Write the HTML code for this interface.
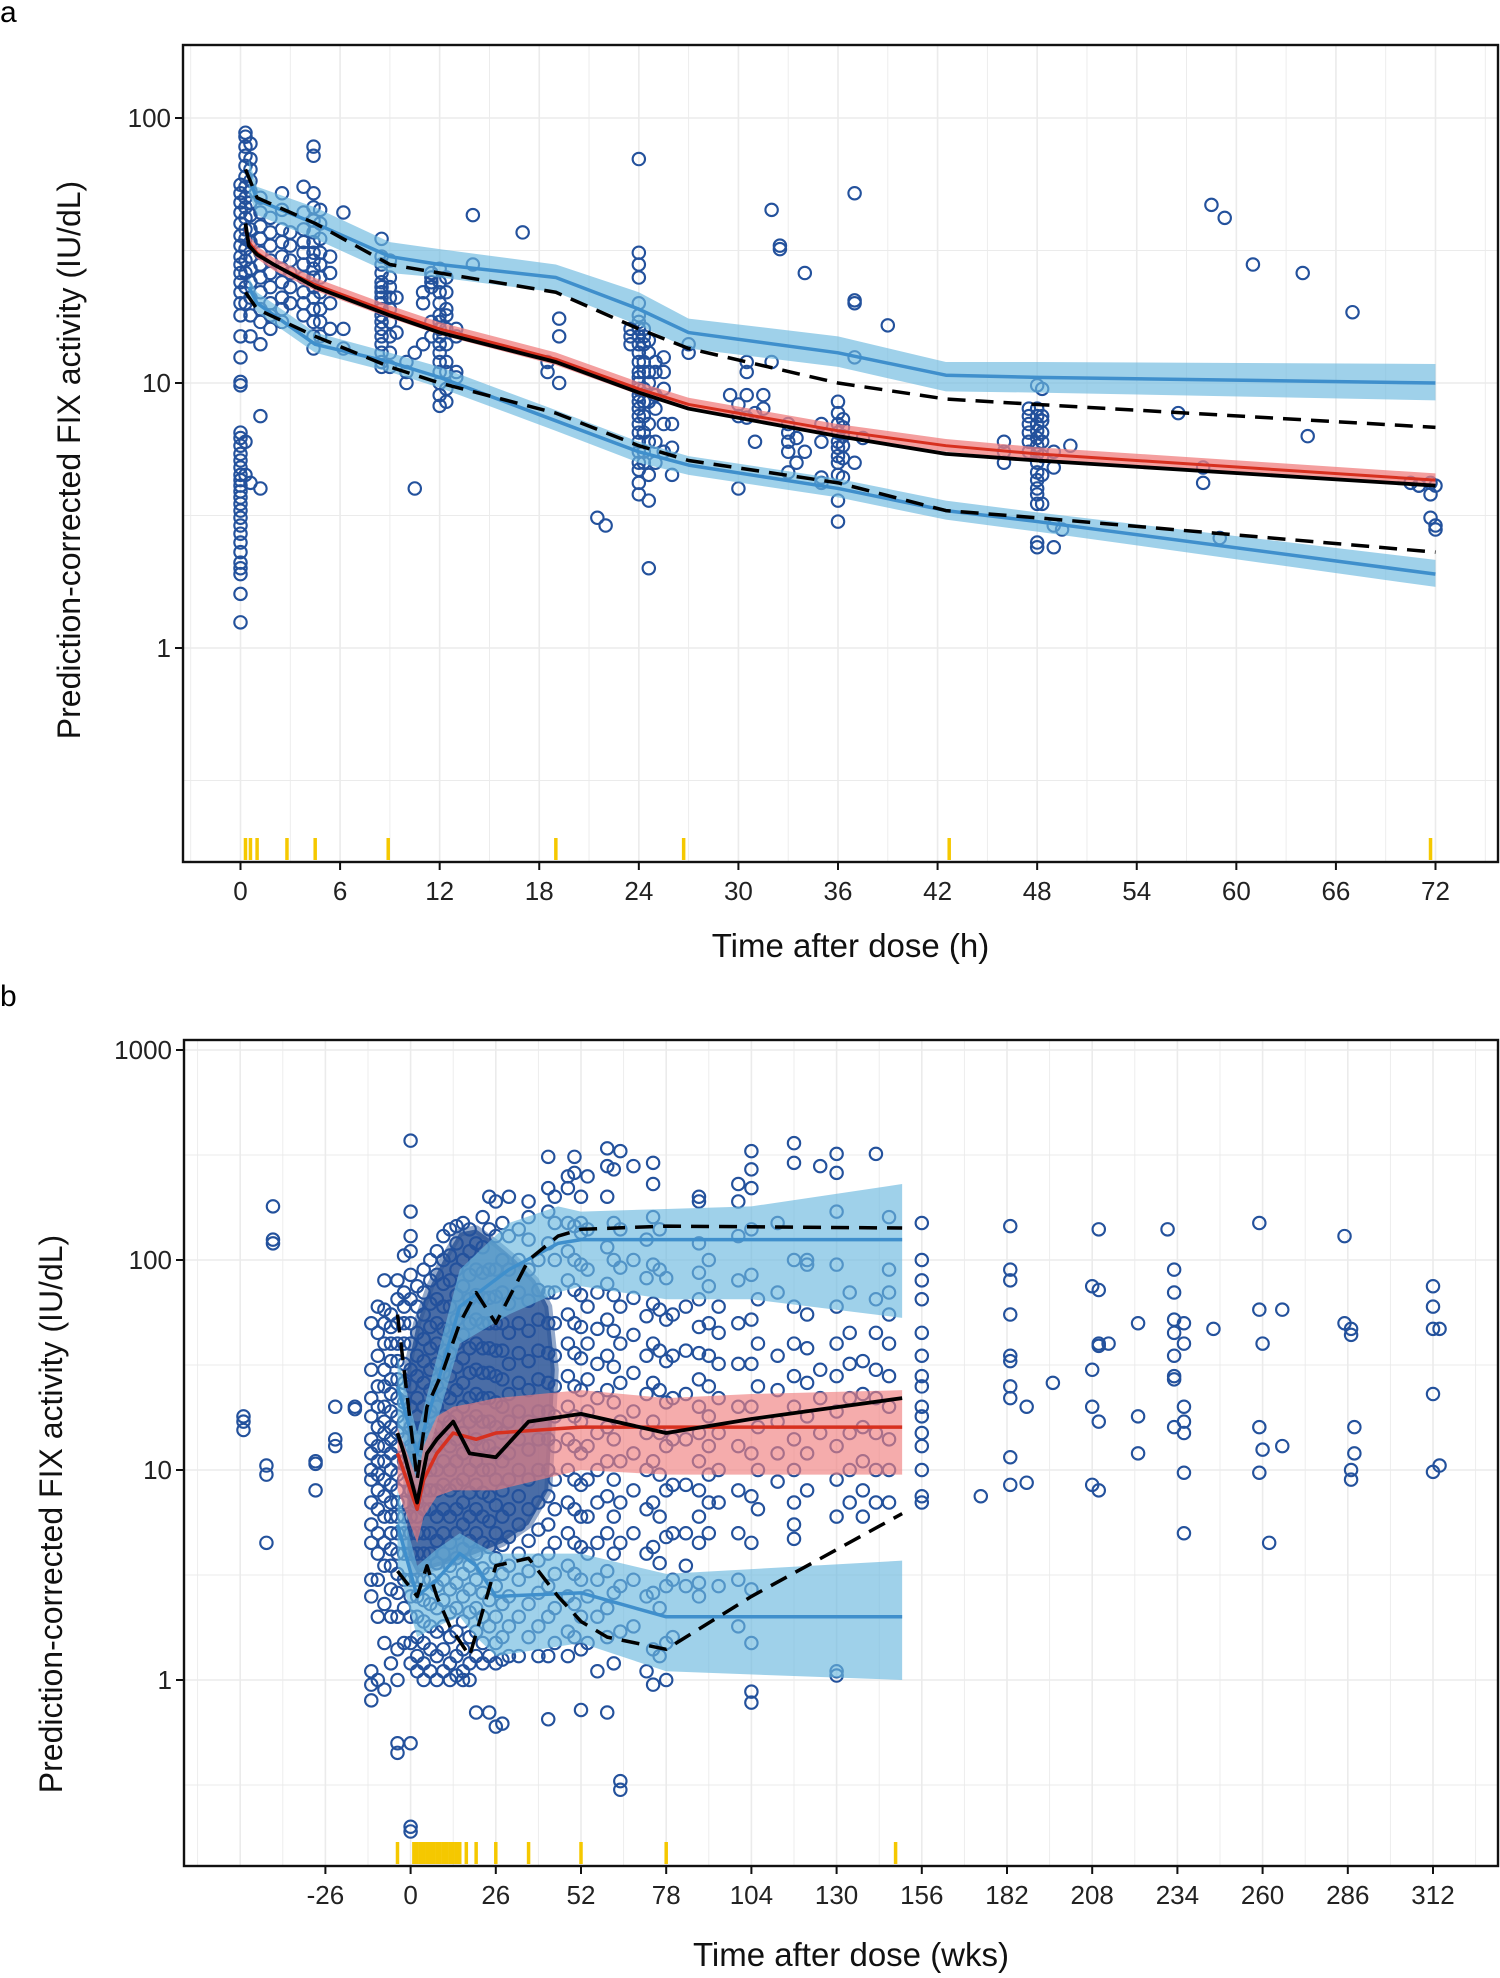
<!DOCTYPE html>
<html><head><meta charset="utf-8">
<style>
html,body{margin:0;padding:0;background:#fff;}
svg{display:block;font-family:"Liberation Sans",Arial,sans-serif;}
</style></head>
<body>
<svg id="chart" width="1500" height="1978" viewBox="0 0 1500 1978" xmlns="http://www.w3.org/2000/svg">
<rect width="1500" height="1978" fill="#fff"/>
<text x="0" y="22" font-size="30">a</text>
<text x="0" y="1006" font-size="30">b</text>
<g id="pa"></g>
<g id="pb"></g>
</svg>
<script>
// ---------- Panel A data ----------
const aXTicks=[0,6,12,18,24,30,36,42,48,54,60,66,72];
const aYTicks=[1,10,100];
const aBandT=[0.5,1,4.5,9,12,19,24,27,36,42.5,48,72];
const aUpMid=[60,49,40,30,28,25,19,15.5,13,10.7,10.5,10];
const aUpLo=[52,43,35,26,25,22,16.5,13.5,11.5,9.3,9.2,8.6];
const aUpHi=[70,55,46,34,32,28,22,17.5,15,12,12,11.8];
const aLoMid=[23,20,14,12,10.5,7.2,5.5,4.9,4.0,3.3,3.0,1.9];
const aLoLo=[21,18.5,13,11,9.6,6.6,5,4.5,3.7,3.05,2.75,1.7];
const aLoHi=[25,22,15.5,13,11.5,7.9,6,5.3,4.35,3.6,3.25,2.15];
const aMedT=[0.3,0.5,1,2,4.5,9,12,19,24,27,36,42.5,48,72];
const aRed=[38,34,31,28,23.5,18.5,16,12.3,9.5,8.3,6.6,5.8,5.4,4.3];
const aBlack=[40,33,30.5,28,23,18,15.5,12,9.2,8,6.3,5.4,5.1,4.1];
const aDashT=[0.3,1,4.5,9,12,19,24,27,36,42.5,48,72];
const aDashUp=[64,50,40,28,26,22,16,13.5,10,8.7,8.3,6.8];
const aDashLo=[22,19,15,11.5,10,7.7,5.8,5.1,4.2,3.3,3.1,2.3];
const aRug=[0.3,0.6,1,2.8,4.5,8.9,19,26.7,42.7,71.7];
const aObs=[
[0,[1.25,1.6,1.9,2.0,2.1,2.3,2.5,2.7,2.9,3.1,3.3,3.5,3.7,3.9,4.1,4.3,4.5,4.8,5.1,5.4,5.8,6.2,6.5,9.8,10.1,12.5,15,18,20,22,24,26,28,30,33,36,40,44,48,52,56]],
[0.3,[4.5,6,20,23,26,29,32,35,38,42,46,50,55,60,66,72,78,85,88]],
[0.6,[4.2,15,18,21,24,27,30,34,38,43,48,53,58,64,70,80]],
[1.2,[4.0,7.5,14,17,19,22,25,28,31,35,39,44,50]],
[1.8,[16,18,20,23,26,29,33,37,42]],
[2.5,[17,19,21,24,27,30,34,38,45,52]],
[3,[20,23,26,29,33,37]],
[3.8,[18,20,22,25,28,31,34,38,44,55]],
[4.4,[13.5,15,17,19,21,23,25,27,29,31,34,37,41,46,52,72,78]],
[4.8,[15,17,19,22,25,28,31,35,40,45]],
[5.4,[16,20,26,30]],[6.2,[13.5,16,44]],
[8.5,[11.5,12,13,14,15,16,17,18,19,20,21,22,23,24,26,28,30,35]],
[9,[11.5,13,15,17,19,21,23,25,29]],[9.4,[15.5,21]],[10,[10,11,12]],[10.5,[4,13]],
[11,[14,20,22]],[11.5,[15,17,23,24,25,26]],
[12,[8.2,9,10,11,12,13,14,15,16,17,18,20,22,24,27]],
[12.4,[8.5,9.5,11,12,14,16,18,19,22,25]],[13,[10.5,11,15,16]],[14,[28,43]],[17,[37]],
[18.5,[11,12]],[19.2,[10,15,17.5]],[21.5,[3.1]],[22,[2.9]],[23.5,[14,15,16]],
[24,[3.8,4.2,4.7,5,5.5,6,6.5,7,7.5,8,8.5,9,9.5,10,10.5,11,12,13,14,15,16,17,18,20,25,28,31,70]],
[24.3,[5,5.5,6.5,7.5,8.5,9.5,11,12,14,15,16]],
[24.6,[2,3.6,4.5,6,7,8.5,10,11,13,14.5]],
[25,[5,6,8,9,11,12]],[25.5,[5.5,7,9.5,11,12.5]],[26,[4.5,5.7,7]],[27,[13,14]],
[29.5,[9]],[30,[4,7.5,8.3]],[30.5,[7.4,9,11,12]],[31,[6,7.7]],[31.5,[8,9]],[32,[45,12]],
[32.5,[33,32]],[33,[4.6,5.5,6,6.5,7]],[33.5,[5,6.2]],[34,[26,5.5]],[35,[4.2,4.4,6,7]],
[36,[3,3.6,4.5,5,5.3,5.7,6,6.5,7,7.7,8.5]],[36.3,[4.4,5.2,5.8,6.3,6.8,7.3]],
[37,[5,20.5,20,12.5,52]],[37.5,[6.2]],[39,[16.5]],[46,[5,5.5,6]],
[47.5,[5.5,6,6.5,7,7.5,8]],
[48,[2.4,2.5,3.5,3.8,4,4.3,4.6,5,5.4,5.8,6.2,6.6,7,7.5,8,9.8]],
[48.3,[3.5,4.5,5.3,6,6.5,7.2,7.5,9.5]],[49,[2.4,2.9,5.5,4.8]],[49.5,[2.8]],[50,[5.8]],
[56.5,[7.7]],[58,[4.8,4.2]],[59,[2.6]],[58.5,[47]],[59.3,[42]],[61,[28]],[64,[26]],
[64.3,[6.3]],[67,[18.5]],[70.5,[4.2]],[71,[4.1,4.1]],[71.7,[3.1,4.2,3.8]],[72,[2.8,2.9,4.1]]
];
// ---------- Panel B data ----------
const bXTicks=[-26,0,26,52,78,104,130,156,182,208,234,260,286,312];
const bYTicks=[1,10,100,1000];
const bUpT=[-4,2,15,30,45,52,78,104,150];
const bUpMid=[25,12,60,90,120,125,125,125,125];
const bUpLo=[15,8,40,55,70,75,65,65,53];
const bUpHi=[35,15,90,150,180,170,175,180,230];
const bLoT=[-4,2,8,15,20,26,52,78,150];
const bLoMid=[5.5,2.5,3,4,3.5,2.5,2.6,2.0,2.0];
const bLoLo=[3.5,1.6,1.8,2,1.6,1.3,1.5,1.1,1.0];
const bLoHi=[8,3.5,4.2,5,4.5,4,4,3.2,3.7];
const bRedT=[-4,2,4,8,13,20,26,52,78,104,150];
const bRed=[12,6.5,9,12,15,14,15,16,16,16,16];
const bRedLo=[8,4.5,6,7.5,8,8,8,10,9.5,9.5,9.5];
const bRedHi=[16,9,13,18,20,21,22,24,22,23,24];
const bBlackT=[-4,-2,2,5,8,13,18,26,36,52,78,104,150];
const bBlack=[15,12,7,12,14,17,12,11.5,17,18.5,15,17.5,22];
const bDUpT=[-4,2,5,10,15,20,26,36,45,52,78,150];
const bDUp=[55,9,20,30,50,70,50,100,130,140,145,142];
const bDLoT=[-4,2,5,8,12,18,26,36,45,52,60,78,104,150];
const bDLo=[3.3,2.5,3.5,2.5,1.8,1.3,3.5,3.8,2.5,1.9,1.6,1.4,2.5,6.2];
const bRug=[-4,1,2,3,4,5,6,7,8,9,10,11,12,13,14,15,17,20,26,36,52,78,148];
const bCloudT=[-1,2,6,10,15,20,26,32,38,42,44,42,36,28,20,12,6,2,-1];
const bCloudV=[30,50,75,100,135,140,120,100,80,60,30,8,5.5,4.5,4,3.6,3.4,3.2,4];
const bObs=[
[-51,[18,17,15.5]],[-42,[180,125,120]],[-44,[10.5,9.5,4.5]],[-29,[11,10.7,8]],[-23,[20,14,13]],[-17,[20,19.5]],
[-12,[0.8,0.95,1.1,2.5,3,4.5,5.5,7,9,10,12,14,18,22,30,50]],
[-10,[1.0,2,3,4,5,6.5,8,9.5,11,13,16,20,25,35,45,60]],
[-8,[0.9,1.5,2.3,3.5,4.5,6,7.5,9,11,13,15,17,20,25,30,40,50,58,80]],
[-6,[1.2,2,2.7,3.5,4.2,5,6,7,8.5,10,12,14,16,19,23,27,33,40,48,55]],
[-4,[0.45,0.5,1.0,1.4,2,2.6,3.2,4,5,6,7,8,9.5,11,13,15,18,22,27,33,40,50,65,80]],
[-2,[1.5,2.2,3,4,5,6,7,9,11,14,17,21,26,32,40,50,60,70,105]],
[0,[0.5,0.2,0.19,1.2,1.5,2,2.5,3,4,5,6,8,10,13,16,20,25,30,40,50,65,85,110,130,170,370]],
[2,[1.1,1.3,1.6,2,2.5,3,4,5,6,7,9,11,14,18,22,28,35,45,60,75]],
[4,[1.0,1.2,1.5,1.9,2.4,3,4,5,6.5,8,10,13,16,20,26,33,42,55,70,90]],
[6,[1.1,1.4,1.8,2.3,3,4,5,6.5,8,10,12,15,19,24,30,38,48,62,80,100]],
[8,[1.0,1.3,1.7,2.2,2.8,3.6,4.6,6,8,10,13,16,20,25,32,40,50,65,85,110]],
[10,[1.1,1.4,1.8,2.4,3,4,5,6.5,8.5,11,14,18,23,29,37,47,60,77,100,130]],
[12,[1.0,1.2,1.6,2.1,2.7,3.5,4.5,6,8,10,13,17,22,28,36,46,60,80,105,140]],
[14,[1.05,1.3,1.7,2.2,2.9,3.8,5,6.5,8.5,11,14,18,24,31,40,52,68,90,120,145]],
[16,[1.0,1.1,1.4,1.9,2.5,3.2,4.2,5.5,7,9,12,15,20,26,34,44,57,75,100,150]],
[18,[1.0,1.2,1.6,2.1,2.7,3.5,4.6,6,7.8,10,13,17,22,29,38,50,65,85,110,140]],
[20,[0.7,1.3,1.7,2.2,3,4,5,6.5,8.5,11,14,18,23,30,40,52,68,90,120]],
[22,[1.2,1.5,2,2.6,3.4,4.5,6,7.8,10,13,17,22,29,38,50,66,87,115,160]],
[24,[0.7,1.3,1.8,2.4,3.2,4.3,5.7,7.5,10,13,17,22,29,38,50,66,90,140,200]],
[26,[0.6,1.2,1.5,2,2.8,3.8,5,6.8,9,12,16,21,28,37,50,67,90,130,190]],
[28,[0.62,1.25,1.6,2.3,3.2,4.4,6,8,11,15,20,27,37,50,70,100,150]],
[30,[1.3,1.8,2.5,3.5,4.8,6.5,9,12,17,23,32,45,62,90,130,200]],
[33,[1.3,2,3,4,5.5,7.5,10,14,19,26,36,50,70,100,140]],
[36,[1.6,2.3,3.3,4.6,6.5,9,12.5,17,24,33,46,64,90,125,160,190]],
[39,[1.3,1.8,2.6,3.7,5.2,7,10,14,19,27,37,52,72,100]],
[42,[0.65,1.3,2,2.8,4,5.5,7.5,10,14,19,26,36,50,70,120,170,220,310]],
[44,[1.5,2.2,3.2,4.5,6.5,9,13,18,25,35,50,70,100,150,200]],
[48,[1.3,1.7,2.5,3.5,5,7,10,14,20,28,40,55,80,110,150,220,250]],
[50,[1.6,2.3,3.2,4.5,6.5,9,13,18,25,36,50,72,100,145,260,310]],
[52,[0.72,1.4,2,3,4.3,6,8.5,12,17,24,34,48,68,95,135,150,200]],
[54,[1.5,2.5,4,6,9,13,19,27,40,60,90,140,250]],
[57,[1.1,2,3,4.5,7,10,15,22,32,47,70]],
[60,[0.7,1.6,2.2,3.3,5,7.5,11,16,24,35,52,77,115,200,280,340]],
[62,[1.2,2.6,4,6,9,14,21,31,46,68,100,150,270]],
[64,[0.3,0.33,1.7,2.8,4.5,7,11,17,26,40,60,92,140,330]],
[68,[1.8,3,5,8,12,19,29,44,66,100,280]],
[72,[1.1,2.5,4,6.5,10,15,23,35,54,82,125]],
[74,[0.95,1.4,2.6,4.3,7,11,17,26,40,62,95,160,230,290]],
[76,[1.3,2.2,3.6,6,9.5,15,24,37,58,90,140]],
[78,[1.0,1.5,2.8,4.8,8,13,21,33,52,82]],
[80,[1.6,3,5,8.5,14,22,35,55]],
[84,[2.8,3.5,5,8.5,14,23,37,60]],
[88,[2.5,2.9,4.5,6,8,11,15,20,27,36,48,65,87,120,190,200]],
[91,[5,7,9.5,13,18,25,35,50,75,100]],
[94,[2.8,7,10,15,22,32,45,60]],
[100,[1.8,3,5,8,13,20,32,50,80,130,190,230]],
[104,[0.78,0.88,1.5,2.7,4.5,7.5,12,20,32,52,85,140,220,270,330]],
[106,[6.5,10,16,25,40,65]],
[112,[8.8,12,17,24,35,70,150]],
[117,[4.7,5.5,7,10,14,20,28,40,60,100,290,360]],
[121,[8,12,18,26,38,55,95,100]],
[125,[15,22,30,280]],
[130,[1.05,1.1,6,9,13,19,28,40,60,95,170,320,260]],
[134,[7,10,15,22,32,45,70]],
[138,[6,8,11,16,23,33]],
[142,[7,10,15,22,30,45,65,320]],
[146,[7,10,14,20,28,40,55,70,90,160]],
[156,[150,100,80,65,45,35,28,25,20,18,15,13,10,7.5,7]],
[174,[7.5]],[183,[145,90,80,55,35,33,25,22,11.5,8.5]],[188,[20,8.7]],[196,[26]],
[208,[75,30,20,8.5]],[210,[140,72,40,39,17,8]],[213,[40]],[222,[50,18,12]],[231,[140]],
[233,[90,70,52,45,35,28,27,16]],[236,[50,40,20,17,15,9.7,5]],[245,[47]],
[259,[150,58,16,9.7]],[260,[40,12.5]],[262,[4.5]],[266,[58,13]],[285,[130,50]],
[287,[47,44,10,9]],[288,[16,12]],[312,[75,60,47,23,9.8]],[314,[47,10.5]]
];

// ---------- rendering ----------
const NS='http://www.w3.org/2000/svg';
function el(parent,tag,attrs){const e=document.createElementNS(NS,tag);for(const k in attrs)e.setAttribute(k,attrs[k]);parent.appendChild(e);return e;}

function panel(g,cfg){
  const L=cfg.left,R=cfg.right,T=cfg.top,B=cfg.bottom;
  const X=v=>cfg.x0+v*cfg.xs;
  const Y=v=>cfg.y1-Math.log10(v)*cfg.dec;
  const grid=el(g,'g',{});
  
  
  const sx=cfg.xTicks[1]-cfg.xTicks[0];
  for(let v=cfg.xTicks[0]-sx*1.5;v<=cfg.xTicks[cfg.xTicks.length-1]+sx;v+=sx/2){
    const px=X(v); if(px<=L||px>=R) continue;
    el(grid,'line',{x1:px,x2:px,y1:T,y2:B,stroke:'#ebebeb','stroke-width':(Math.abs(((v-cfg.xTicks[0])/sx)%1)<1e-6)?1.6:0.9});
  }
  for(let e=-2;e<=4;e+=0.5){
    const py=Y(Math.pow(10,e)); if(py<=T||py>=B) continue;
    el(grid,'line',{x1:L,x2:R,y1:py,y2:py,stroke:'#ebebeb','stroke-width':(e%1===0)?1.6:0.9});
  }
  if(cfg.cloud){
    let d=cfg.cloud.t.map((t,i)=>(i?'L':'M')+X(t)+','+Y(cfg.cloud.v[i])).join(' ')+'Z';
    const c=el(g,'path',{d:d,fill:'#2a5396','fill-opacity':0.85,'stroke':'#2a5396','stroke-width':8,'stroke-opacity':0.5,'stroke-linejoin':'round'});
    
    
  }
  const pts=el(g,'g',{});
  
  
  cfg.obs.forEach(col=>col[1].forEach(v=>{
    const c=el(pts,'circle',{cx:X(col[0]),cy:Y(v),r:cfg.r,fill:'none',stroke:'#23519c','stroke-width':2.1});
    
    
  }));
  cfg.bands.forEach(b=>{
    let d=b.t.map((t,i)=>(i?'L':'M')+X(t)+','+Y(b.hi[i])).join(' ');
    for(let i=b.t.length-1;i>=0;i--) d+=' L'+X(b.t[i])+','+Y(b.lo[i]);
    const p=el(g,'path',{d:d+'Z',fill:b.fill,'fill-opacity':b.op});
    
    
  });
  cfg.lines.forEach(l=>{
    const d=l.t.map((t,i)=>(i?'L':'M')+X(t)+','+Y(l.v[i])).join(' ');
    const p=el(g,'path',{d:d,fill:'none',stroke:l.c,'stroke-width':l.w,'stroke-dasharray':l.dash||'none','stroke-linejoin':'round'});
    
    
  });
  cfg.rug.forEach(t=>{
    const r=el(g,'line',{x1:X(t),x2:X(t),y1:B-2,y2:B-24,stroke:'#f5c800','stroke-width':3.5});
    
    
  });
  const fr=el(g,'rect',{x:L,y:T,width:R-L,height:B-T,fill:'none',stroke:'#111','stroke-width':2.4});
  
  
  cfg.xTicks.forEach(v=>{
    el(g,'line',{x1:X(v),x2:X(v),y1:B,y2:B+8,stroke:'#111','stroke-width':2});
    const t=el(g,'text',{x:X(v),y:B+38,'font-size':26,'text-anchor':'middle',fill:'#222'});
    t.textContent=v;
    
    
  });
  cfg.yTicks.forEach(v=>{
    el(g,'line',{x1:L-8,x2:L,y1:Y(v),y2:Y(v),stroke:'#111','stroke-width':2});
    const t=el(g,'text',{x:L-12,y:Y(v)+9,'font-size':26,'text-anchor':'end',fill:'#222'});
    t.textContent=v;
    
    
  });
  const xt=el(g,'text',{x:(L+R)/2+10,y:cfg.xTitleY,'font-size':33,'text-anchor':'middle',fill:'#111'});
  xt.textContent=cfg.xTitle;
  
  
  const yt=el(g,'text',{x:0,y:0,'font-size':32,'text-anchor':'middle',fill:'#111',transform:'translate('+cfg.yTitleX+','+cfg.yTitleCy+') rotate(-90)'});
  yt.textContent='Prediction-corrected FIX activity (IU/dL)';
  
  
}

panel(document.getElementById('pa'),{
  left:183,right:1498,top:45,bottom:862,x0:240.5,xs:(1435.5-240.5)/72,y1:648,dec:265,r:6.2,
  xTicks:aXTicks,yTicks:aYTicks,obs:aObs,rug:aRug,
  bands:[
    {name:'upper-pi-band',t:aBandT,lo:aUpLo,hi:aUpHi,fill:'#6cb8de',op:0.65},
    {name:'lower-pi-band',t:aBandT,lo:aLoLo,hi:aLoHi,fill:'#6cb8de',op:0.65},
    {name:'median-band',t:aMedT,lo:aRed.map(v=>v*0.95),hi:aRed.map(v=>v*1.06),fill:'#f07f7f',op:0.75}
  ],
  lines:[
    {name:'upper-pi-line',t:aBandT,v:aUpMid,c:'#3f8fcc',w:3.5},
    {name:'lower-pi-line',t:aBandT,v:aLoMid,c:'#3f8fcc',w:3.5},
    {name:'predicted-median-line',t:aMedT,v:aRed,c:'#d7301f',w:3},
    {name:'observed-median-line',t:aMedT,v:aBlack,c:'#000',w:3.8},
    {name:'observed-upper-dashed',t:aDashT,v:aDashUp,c:'#000',w:3.5,dash:'18,10'},
    {name:'observed-lower-dashed',t:aDashT,v:aDashLo,c:'#000',w:3.5,dash:'18,10'}
  ],
  xTitle:'Time after dose (h)',xTitleY:957,yTitleX:80,yTitleCy:460
});
panel(document.getElementById('pb'),{
  left:184,right:1498,top:1040,bottom:1866,x0:410.6,xs:85.2/26,y1:1680,dec:210,r:6.2,
  xTicks:bXTicks,yTicks:bYTicks,obs:bObs,rug:bRug,cloud:{t:bCloudT,v:bCloudV},
  bands:[
    {name:'upper-pi-band',t:bUpT,lo:bUpLo,hi:bUpHi,fill:'#6cb8de',op:0.65},
    {name:'lower-pi-band',t:bLoT,lo:bLoLo,hi:bLoHi,fill:'#6cb8de',op:0.65},
    {name:'median-band',t:bRedT,lo:bRedLo,hi:bRedHi,fill:'#f07f7f',op:0.65}
  ],
  lines:[
    {name:'upper-pi-line',t:bUpT,v:bUpMid,c:'#3f8fcc',w:3.5},
    {name:'lower-pi-line',t:bLoT,v:bLoMid,c:'#3f8fcc',w:3.5},
    {name:'predicted-median-line',t:bRedT,v:bRed,c:'#d7301f',w:3.5},
    {name:'observed-median-line',t:bBlackT,v:bBlack,c:'#000',w:3.8},
    {name:'observed-upper-dashed',t:bDUpT,v:bDUp,c:'#000',w:3.5,dash:'18,10'},
    {name:'observed-lower-dashed',t:bDLoT,v:bDLo,c:'#000',w:3.5,dash:'18,10'}
  ],
  xTitle:'Time after dose (wks)',xTitleY:1966,yTitleX:62,yTitleCy:1514
});
</script>
</body></html>
